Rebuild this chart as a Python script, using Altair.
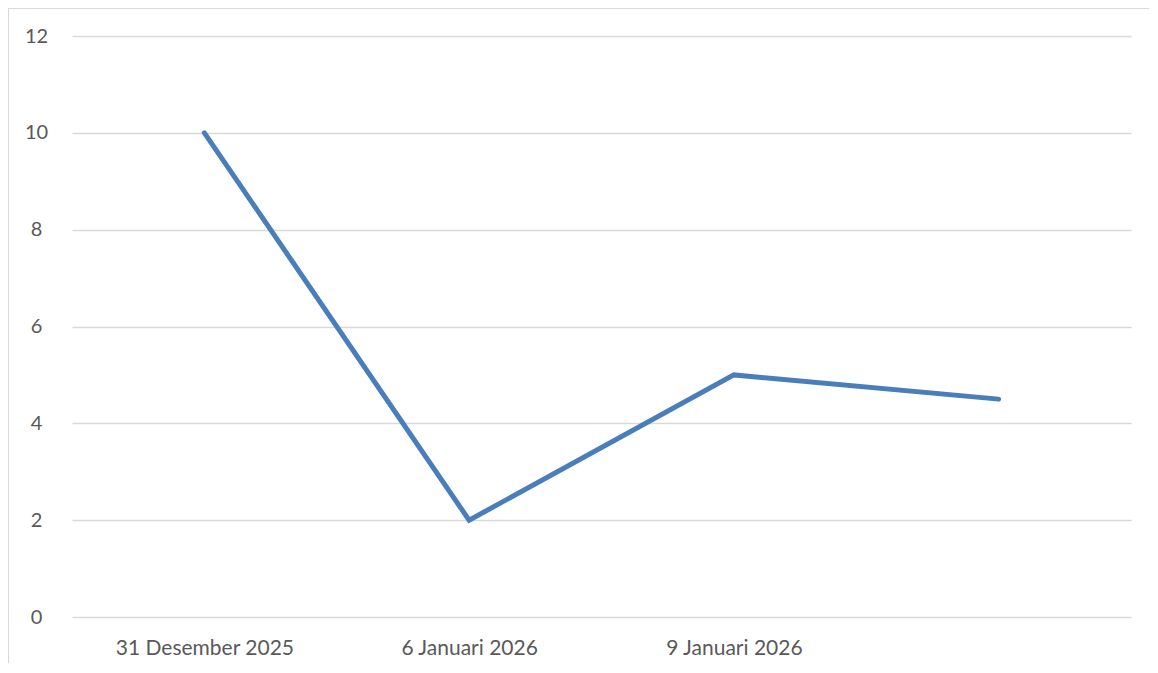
import altair as alt
import pandas as pd

categories = ["31 Desember 2025", "6 Januari 2026", "9 Januari 2026", " "]
values = [10, 2, 5, 4.5]
y_ticks = [0, 2, 4, 6, 8, 10, 12]

df = pd.DataFrame({"date": categories, "value": values, "order": list(range(len(categories)))})

FONT = "Lato"
GRID = "#d9d9d9"
TEXT = "#595959"

line = alt.Chart(df).mark_line(
    color="#4a7ebb", strokeWidth=5, strokeCap="round", strokeJoin="miter"
).encode(
    x=alt.X("date:N", sort=categories, title=None,
            scale=alt.Scale(paddingInner=0, paddingOuter=0, align=0.5),
            axis=alt.Axis(labelAngle=0, ticks=False, domain=False, grid=False,
                          labelPadding=20, labelFont=FONT, labelFontSize=21,
                          labelColor=TEXT)),
    y=alt.Y("value:Q", title=None,
            scale=alt.Scale(domain=[0, 12], nice=False),
            axis=alt.Axis(values=y_ticks, ticks=False, domain=False,
                          gridColor=GRID, gridWidth=1.5, labelAlign="center",
                          labelPadding=36, labelFont=FONT, labelFontSize=20,
                          labelColor=TEXT)),
    order="order:Q",
)

frame_left = alt.Chart(df).mark_rule(color=GRID, strokeWidth=2).encode(
    x=alt.value(-64), y=alt.value(-28), y2=alt.value(640)
)
frame_top = alt.Chart(df).mark_rule(color=GRID, strokeWidth=2).encode(
    x=alt.value(-64), x2=alt.value(1080), y=alt.value(-28)
)

chart = alt.layer(frame_left, frame_top, line).properties(
    width=1059, height=581,
    autosize=alt.AutoSizeParams(type="none"),
    padding={"left": 64, "top": 28, "right": 18, "bottom": 46},
).configure(background="white", view=alt.ViewConfig(stroke=None))

chart.save("out.html", embed_options={"renderer": "svg", "actions": False})
